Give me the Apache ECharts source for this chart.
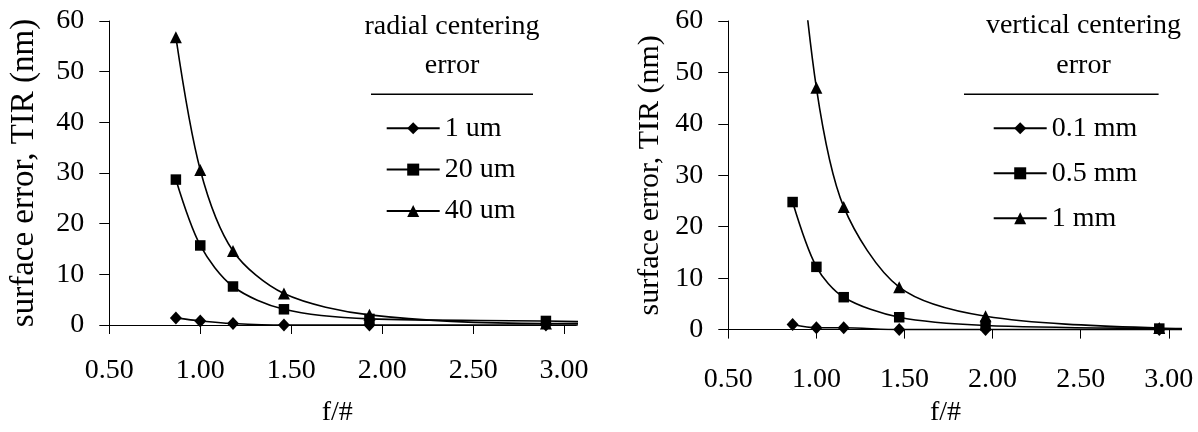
<!DOCTYPE html>
<html>
<head>
<meta charset="utf-8">
<title>surface error vs f/#</title>
<script src="https://cdn.jsdelivr.net/npm/echarts@6/dist/echarts.min.js"></script>
<style>
  html, body { margin: 0; padding: 0; background: #ffffff; }
  #chart { width: 1198px; height: 432px; }
</style>
</head>
<body>
<div id="chart"></div>
<script>
// 数据
const xTicks = [0.5, 1.0, 1.5, 2.0, 2.5, 3.0]
const yTicks = [0, 10, 20, 30, 40, 50, 60]

// left: radial centering error (last point lies past the axis end, clipped)
const fLeft = [0.866, 1.0, 1.18, 1.46, 1.93, 2.9, 3.5]
const radial1 = [1.4, 0.8, 0.3, 0, 0, 0, 0]
const radial20 = [28.7, 15.7, 7.6, 3.1, 1.2, 0.8, 0.3]
const radial40 = [56.8, 30.6, 14.6, 6.2, 2.0, 0.3, 0.3]

// right: vertical centering error (first 1 mm point is above 60, clipped)
const fRight = [0.865, 1.0, 1.155, 1.47, 1.96, 2.946, 3.5]
const vert01 = [1.0, 0.35, 0.35, 0, 0, 0, 0]
const vert05 = [24.8, 12.2, 6.3, 2.4, 0.8, 0.2, 0.1]
const vert1 = [90, 47.0, 23.85, 8.25, 2.6, 0.3, 0.1]

const leftNames = ['1 um', '20 um', '40 um']
const rightNames = ['0.1 mm', '0.5 mm', '1 mm']

const FONT = 'Liberation Serif, Times New Roman, serif'
const pair = (xs, ys) => xs.map((x, i) => [x, ys[i]])

const myChart = echarts.init(document.getElementById('chart'))

const makeX = (idx, nameShift, labelMargin, nameGap) => ({
  type: 'value',
  gridIndex: idx,
  min: 0.5,
  max: 3.067,
  name: 'f/#',
  nameLocation: 'middle',
  nameGap: nameGap,
  nameTextStyle: { fontFamily: FONT, fontSize: 28, color: '#000', lineHeight: 28, padding: [0, nameShift, 0, 0] },
  axisLine: { lineStyle: { color: '#000', width: 1 } },
  axisTick: { show: true, inside: false, length: 9, customValues: xTicks, lineStyle: { color: '#000' } },
  axisLabel: {
    customValues: xTicks,
    margin: labelMargin,
    fontFamily: FONT,
    fontSize: 28,
    lineHeight: 28,
    color: '#000',
    formatter: v => v.toFixed(2)
  },
  splitLine: { show: false }
})

const makeY = (idx, nameSize, nameGap) => ({
  type: 'value',
  gridIndex: idx,
  min: 0,
  max: 60,
  interval: 10,
  name: 'surface error, TIR (nm)',
  nameLocation: 'middle',
  nameGap: nameGap,
  nameTextStyle: { fontFamily: FONT, fontSize: nameSize, color: '#000', lineHeight: nameSize },
  axisLine: { show: true, lineStyle: { color: '#000', width: 1 } },
  axisTick: { show: true, inside: false, length: 10, lineStyle: { color: '#000' } },
  axisLabel: {
    margin: 25,
    fontFamily: FONT,
    fontSize: 28,
    lineHeight: 28,
    color: '#000',
    formatter: v => (yTicks.indexOf(v) > -1 ? String(v) : '')
  },
  splitLine: { show: false }
})

const symbols = [['diamond', [12, 13]], ['rect', 10.5], ['triangle', 12]]

const makeSeries = (name, xs, ys, k, idx) => ({
  name: name,
  type: 'line',
  xAxisIndex: idx,
  yAxisIndex: idx,
  data: pair(xs, ys),
  smooth: 0.3,
  clip: true,
  symbol: symbols[k][0],
  symbolSize: symbols[k][1],
  showAllSymbol: true,
  itemStyle: { color: '#000' },
  lineStyle: { color: '#000', width: 1.6 },
  emphasis: { disabled: true },
  animation: false
})

const legendBase = {
  orient: 'vertical',
  selectedMode: false,
  itemHeight: 15,
  textStyle: { fontFamily: FONT, fontSize: 28, lineHeight: 28, color: '#000' }
}

const titleText = (txt, x, y) => ({
  type: 'text',
  x: x,
  y: y,
  style: { text: txt, fontFamily: FONT, fontSize: 28, fill: '#000', align: 'center', verticalAlign: 'middle' }
})

const options = {
  backgroundColor: '#ffffff',
  animation: false,
  grid: [
    { left: 109.3, top: 21, width: 467, height: 311.5 },
    { left: 728.3, top: 21, width: 452.3, height: 316.5 }
  ],
  xAxis: [makeX(0, 11, 31.5, 74), makeX(1, 18, 36.5, 62)],
  yAxis: [makeY(0, 33, 68), makeY(1, 30, 63.5)],
  legend: [
    Object.assign({}, legendBase, { data: leftNames, left: 380.7, top: 109.3, itemWidth: 53, itemGap: 13.3 }),
    Object.assign({}, legendBase, { data: rightNames, left: 987.7, top: 109.3, itemWidth: 53, itemGap: 17 })
  ],
  graphic: [
    titleText('radial centering', 452, 27),
    titleText('error', 452, 66),
    { type: 'line', shape: { x1: 371, y1: 94.3, x2: 533, y2: 94.3 }, style: { stroke: '#000', lineWidth: 1.5 } },
    titleText('vertical centering', 1083.5, 25.5),
    titleText('error', 1083.5, 66),
    { type: 'line', shape: { x1: 964, y1: 94.3, x2: 1158.6, y2: 94.3 }, style: { stroke: '#000', lineWidth: 1.5 } }
  ],
  series: [
    makeSeries(leftNames[0], fLeft, radial1, 0, 0),
    makeSeries(leftNames[1], fLeft, radial20, 1, 0),
    makeSeries(leftNames[2], fLeft, radial40, 2, 0),
    makeSeries(rightNames[0], fRight, vert01, 0, 1),
    makeSeries(rightNames[1], fRight, vert05, 1, 1),
    makeSeries(rightNames[2], fRight, vert1, 2, 1)
  ]
}
myChart.setOption(options)
</script>
</body>
</html>
